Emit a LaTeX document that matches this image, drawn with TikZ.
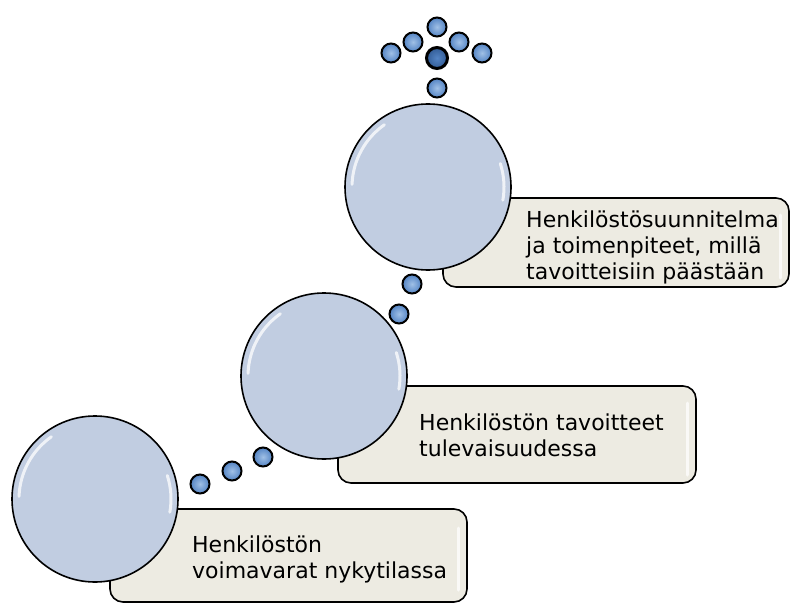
\documentclass[tikz,border=0pt]{standalone}
\usepackage{fontspec}
\setmainfont{DejaVu Sans}
\definecolor{bubblefill}{RGB}{193,205,225}
\definecolor{cardfill}{RGB}{237,235,226}
\definecolor{dotlight}{RGB}{160,192,230}
\definecolor{dotdark}{RGB}{84,132,196}
\definecolor{dotdeep}{RGB}{50,92,150}

\begin{document}
\begin{tikzpicture}[x=1pt,y=-1pt,
    bubble/.style={circle, draw=black, line width=1.6pt, fill=bubblefill, minimum size=166pt, inner sep=0pt},
    dot/.style={circle, draw=black, line width=2pt, inner color=dotlight, outer color=dotdark, minimum size=19pt, inner sep=0pt},
    card/.style={draw=black, line width=1.6pt, fill=cardfill, rounded corners=13pt},
    shine/.style={white, line width=3pt, opacity=0.75, line cap=round},
    cardtext/.style={anchor=base west, align=left, inner sep=0pt, font=\fontsize{22}{26}\selectfont}]
        \useasboundingbox (0,0) rectangle (791,604);
        % cards behind the bubbles
        \draw[card] (110,509) rectangle (467,602);
        \draw[card] (338,386) rectangle (696,483);
        \draw[card] (443,198) rectangle (789,287);
        \draw[shine] (458,528) -- (458,590);
        \draw[shine] (687,403) -- (687,475);
        \draw[shine] (780,215) -- (780,278);
        % bubbles
        \node[bubble] (now) at (95,499) {};
        \node[bubble] (goal) at (324,376) {};
        \node[bubble] (plan) at (428,187) {};
        \foreach \b in {now, goal, plan} {
            \draw[shine] ([shift={(125:76pt)}]\b.center) arc[start angle=125, end angle=178, radius=76pt];
            \draw[shine] ([shift={(-10:76pt)}]\b.center) arc[start angle=-10, end angle=18, radius=76pt];
        }
        % texts (base = last line)
        \node[cardtext] (nowtext) at (192,578) {Henkilöstön\\voimavarat nykytilassa};
        \node[cardtext] (goaltext) at (419,456) {Henkilöstön tavoitteet\\tulevaisuudessa};
        \node[cardtext] (plantext) at (526,279) {Henkilöstösuunnitelma\\ja toimenpiteet, millä\\tavoitteisiin päästään};
        % small dots between bubbles
        \node[dot] (d1) at (200,484) {};
        \node[dot] (d2) at (232,471) {};
        \node[dot] (d3) at (263,457) {};
        \node[dot] (d4) at (399,314) {};
        \node[dot] (d5) at (412,284) {};
        % dots above the last bubble
        \node[dot] (up) at (437,88) {};
        \node[dot, line width=3pt, inner color=dotdark, outer color=dotdeep, minimum size=21pt] (hub) at (437,58) {};
        \node[dot] (top) at (437,27) {};
        \node[dot] (ul) at (413,42) {};
        \node[dot] (ur) at (459,42) {};
        \node[dot] (ll) at (391,53) {};
        \node[dot] (lr) at (482,53) {};
\end{tikzpicture}
\end{document}
